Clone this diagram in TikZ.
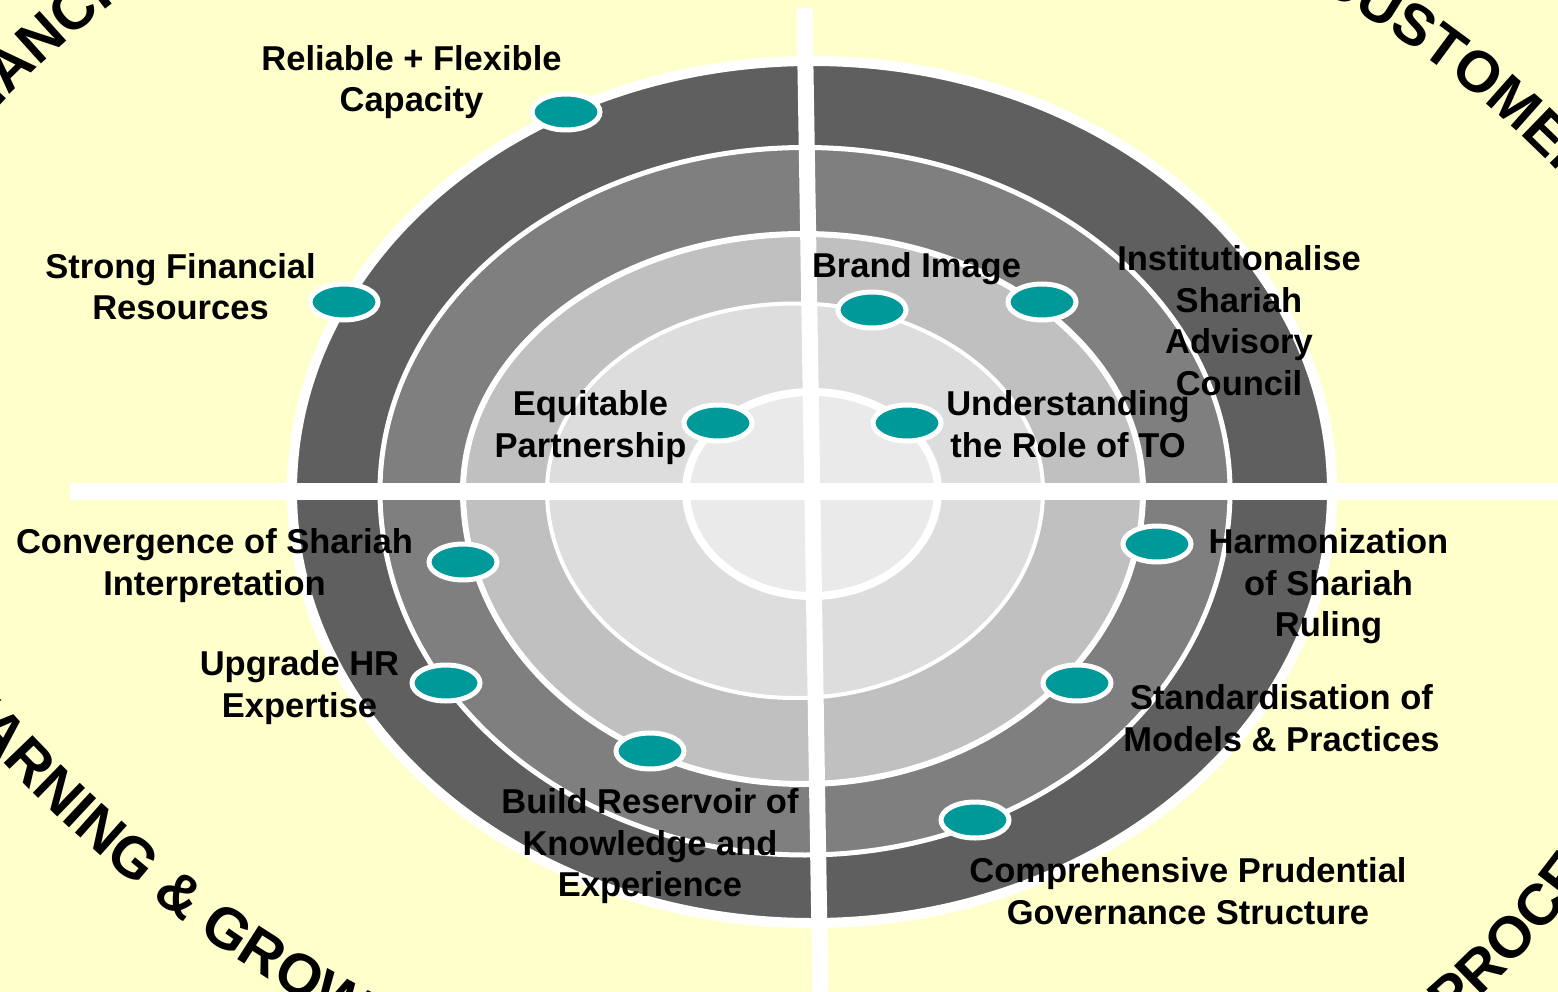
\documentclass[tikz,border=0pt]{standalone}
\usepackage{fontspec}
\setmainfont{Liberation Sans}
\usetikzlibrary{shapes.geometric,decorations.text}
\definecolor{bgyellow}{HTML}{FFFFCC}
\definecolor{ringA}{HTML}{5F5F5F}
\definecolor{ringB}{HTML}{7F7F7F}
\definecolor{ringC}{HTML}{C0C0C0}
\definecolor{ringD}{HTML}{DDDDDD}
\definecolor{ringE}{HTML}{EAEAEA}
\definecolor{dotteal}{HTML}{009999}
\begin{document}
\begin{tikzpicture}[x=1pt,y=-1pt,
  lbl/.style={font=\fontsize{34.5}{41.5}\selectfont\bfseries, align=center, inner sep=0pt, text=black},
  tealdot/.style={ellipse, fill=dotteal, draw=white, line width=5pt, minimum width=68pt, minimum height=36pt, inner sep=0pt},
  cornertext/.style={decorate, decoration={text along path, text align=center,
      text={|\fontsize{58}{60}\selectfont\bfseries|#1}}},
  ringline/.style={draw=white}
]
\useasboundingbox (0,0) rectangle (1558,992);
\fill[bgyellow] (0,0) rectangle (1558,992);

% upper halves of the rings
\begin{scope}
  \clip (0,0) rectangle (1558,491.5);
  \draw[ringline, line width=10pt, fill=ringA] (812,491) ellipse [x radius=520, y radius=430];
  \draw[ringline, line width=5pt, fill=ringB] (805,491) ellipse [x radius=425, y radius=343.5];
  \draw[ringline, line width=6pt, fill=ringC] (803,491) ellipse [x radius=340, y radius=257];
  \draw[ringline, line width=4pt, fill=ringD] (795,491) ellipse [x radius=248, y radius=187.5];
  \draw[ringline, line width=8pt, fill=ringE] (812,491) ellipse [x radius=126, y radius=99];
\end{scope}
% lower halves of the rings
\begin{scope}
  \clip (0,491.5) rectangle (1558,992);
  \draw[ringline, line width=10pt, fill=ringA] (812,491) ellipse [x radius=520, y radius=432];
  \draw[ringline, line width=5pt, fill=ringB] (805,491) ellipse [x radius=425, y radius=364];
  \draw[ringline, line width=6pt, fill=ringC] (803,491) ellipse [x radius=340, y radius=293];
  \draw[ringline, line width=4pt, fill=ringD] (795,491) ellipse [x radius=248, y radius=207];
  \draw[ringline, line width=8pt, fill=ringE] (812,491) ellipse [x radius=126, y radius=105];
\end{scope}

% cross bars
\coordinate (hL) at (70,491.5);
\coordinate (hR) at (1570,491.5);
\coordinate (vT) at (804.5,8);
\coordinate (vB) at (820.5,1000);
\draw[white, line width=17pt] (hL) -- (hR);
\draw[white, line width=16pt] (vT) -- (vB);

% dots
\node[tealdot] (d1) at (566,112) {};
\node[tealdot] (d2) at (344,302) {};
\node[tealdot] (d3) at (718,423) {};
\node[tealdot] (d4) at (872,310) {};
\node[tealdot] (d5) at (1042,302) {};
\node[tealdot] (d6) at (907,423) {};
\node[tealdot] (d7) at (463,562) {};
\node[tealdot] (d8) at (446,683) {};
\node[tealdot] (d9) at (650,751) {};
\node[tealdot] (d10) at (1157,544) {};
\node[tealdot] (d11) at (1077,683) {};
\node[tealdot] (d12) at (975,820) {};

% labels
\node[lbl] (l1) at (411.5,82.5) {Reliable + Flexible\strut\\Capacity\strut};
\node[lbl] (l2) at (180.5,290.5) {Strong Financial\strut\\Resources\strut};
\node[lbl] (l3) at (590.5,428) {Equitable\strut\\Partnership\strut};
\node[lbl] (l4) at (916.5,269) {Brand Image\strut};
\node[lbl] (l5) at (1239,324.5) {Institutionalise\strut\\Shariah\\Advisory\\Council\strut};
\node[lbl] (l6) at (1068,428) {Understanding\strut\\the Role of TO\strut};
\node[lbl] (l7) at (214.5,566) {Convergence of Shariah\strut\\Interpretation\strut};
\node[lbl] (l8) at (299.5,688) {Upgrade HR\strut\\Expertise\strut};
\node[lbl] (l9) at (650,847) {Build Reservoir of\strut\\Knowledge and\\Experience\strut};
\node[lbl] (l10) at (1328.5,587) {Harmonization\strut\\of Shariah\\Ruling\strut};
\node[lbl] (l11) at (1281.5,722) {Standardisation of\strut\\Models \& Practices\strut};
\node[lbl] (l12) at (1188,895) {Comprehensive Prudential\strut\\Governance Structure\strut};

% perspective titles along arcs
\coordinate (fS) at (-135,284);
\coordinate (fE) at (304.5,-111.8);
\coordinate (cS) at (1137,-87);
\coordinate (cE) at (1692,346);
\coordinate (gS) at (-97.6,639.6);
\coordinate (gE) at (463.8,1078.1);
\coordinate (pS) at (1154,1190);
\coordinate (pE) at (1651,779);
\path[cornertext={FINANCIAL}] (fS) to[bend left=17.2, looseness=0.89] (fE);
\path[cornertext={CUSTOMER}] (cS) to[bend left=20.6, looseness=0.89] (cE);
\path[cornertext={LEARNING {\&} GROWTH}] (gS) to[bend right=15.9, looseness=0.87] (gE);
\path[cornertext={INTERNAL PROCESS}] (pS) to[bend right=21, looseness=0.89] (pE);
\end{tikzpicture}
\end{document}
